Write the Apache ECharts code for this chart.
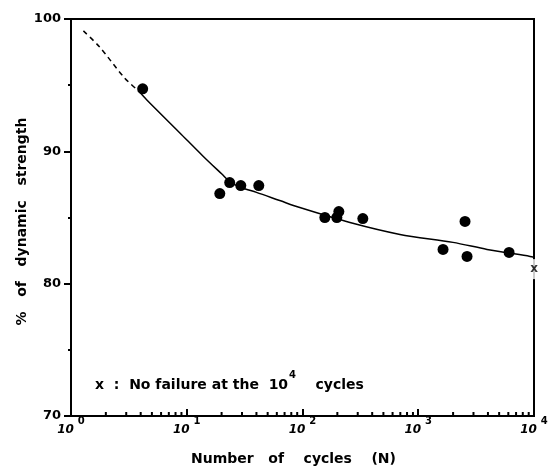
<!DOCTYPE html>
<html lang="en">
<head>
    <meta charset="UTF-8">
    <title>% of dynamic strength vs number of cycles</title>
    <script src="https://cdn.jsdelivr.net/npm/echarts@6/dist/echarts.min.js"></script>
</head>
<body style="margin:0;background:#fff;">
<div id="main" style="width:554px;height:471px;"></div>
<script type="text/javascript">
    // measured points (failure)
    var cyclesN = [4.16, 19.3, 23.5, 29.3, 41.9, 156, 198, 206, 332, 1637, 2535, 2639, 6090];
    var strength = [94.72, 86.81, 87.64, 87.41, 87.41, 85.0, 85.0, 85.45, 84.92, 82.59, 84.7, 82.06, 82.36];

    // run-out specimen (no failure at 10^4)
    var runoutN = [10000];
    var runoutS = [81.1];

    // fitted curve, dashed extrapolation part
    var dashN = [1.28, 1.76, 2.9, 3.9];
    var dashS = [99.1, 97.9, 95.55, 94.5];

    // fitted curve, solid part
    var fitN = [3.9, 4.5, 8.68, 13.7, 20, 24, 30, 40, 63.6, 94.8, 257, 695, 1995, 3929, 9250, 10000];
    var fitS = [94.5, 93.9, 91.41, 89.67, 88.3, 87.65, 87.25, 86.9, 86.28, 85.75, 84.62, 83.72, 83.12, 82.59, 82.06, 82.0];

    var decades = [1, 10, 100, 1000];
    var minorSteps = [2, 3, 4, 5, 6, 7, 8, 9];

    function pairs(xs, ys) {
        var out = [];
        for (var i = 0; i < xs.length; i++) {
            out.push([xs[i], ys[i]]);
        }
        return out;
    }

    var minorTicks = [];
    for (var d = 0; d < decades.length; d++) {
        for (var k = 0; k < minorSteps.length; k++) {
            minorTicks.push([decades[d] * minorSteps[k], 70]);
        }
    }

    var FONT = 'DejaVu Sans';

    var myChart = echarts.init(document.getElementById('main'));

    var option = {
        animation: false,
        backgroundColor: '#fff',
        grid: {
            left: 71,
            right: 20,
            top: 19,
            bottom: 54,
            show: true,
            borderColor: '#000',
            borderWidth: 2
        },
        xAxis: {
            type: 'log',
            logBase: 10,
            min: 1,
            max: 10000,
            name: 'Number   of    cycles    (N)',
            nameLocation: 'middle',
            nameGap: 36,
            nameMoveOverlap: false,
            nameTextStyle: {
                fontFamily: FONT,
                fontWeight: 'bold',
                fontSize: 14,
                color: '#000',
                padding: [0, 18, 0, 0]
            },
            axisLine: {lineStyle: {color: '#000', width: 2}},
            axisTick: {inside: true, length: 7, lineStyle: {color: '#000', width: 2}},
            splitLine: {show: false},
            axisLabel: {
                margin: 0,
                color: '#000',
                formatter: function (v) {
                    return '{b|10}{s|' + Math.round(Math.log10(v)) + '}';
                },
                rich: {
                    b: {fontFamily: FONT, fontWeight: 'bold', fontStyle: 'italic', fontSize: 12, lineHeight: 20, verticalAlign: 'bottom', color: '#000'},
                    s: {fontFamily: FONT, fontWeight: 'bold', fontSize: 10, lineHeight: 8, verticalAlign: 'top', padding: [0, 0, 0, 4], color: '#000'}
                }
            }
        },
        yAxis: {
            type: 'value',
            min: 70,
            max: 100,
            interval: 10,
            name: '%   of   dynamic   strength',
            nameLocation: 'middle',
            nameGap: 42,
            nameMoveOverlap: false,
            nameTextStyle: {
                fontFamily: FONT,
                fontWeight: 'bold',
                fontSize: 14,
                color: '#000',
                padding: [0, 8, 0, 0]
            },
            axisLine: {show: true, lineStyle: {color: '#000', width: 2}},
            axisTick: {show: true, length: 7, lineStyle: {color: '#000', width: 2}},
            minorTick: {show: true, splitNumber: 2, length: 3, lineStyle: {color: '#000', width: 2}},
            splitLine: {show: false},
            axisLabel: {
                margin: 10,
                fontFamily: FONT,
                fontWeight: 'bold',
                fontSize: 13,
                color: '#000'
            }
        },
        graphic: [{
            type: 'text',
            left: 95,
            top: 370,
            style: {
                text: '{a|x  :  No failure at the  10}{s|4}{a|    cycles}',
                rich: {
                    a: {fontFamily: FONT, fontWeight: 'bold', fontSize: 14, lineHeight: 22, verticalAlign: 'bottom', fill: '#000'},
                    s: {fontFamily: FONT, fontWeight: 'bold', fontSize: 10, lineHeight: 10, verticalAlign: 'top', padding: [0, 0, 0, 1], fill: '#000'}
                }
            }
        }],
        series: [
            {
                name: 'extrapolation',
                type: 'line',
                data: pairs(dashN, dashS),
                showSymbol: false,
                smooth: 0.3,
                lineStyle: {color: '#000', width: 1.5, type: [5, 4]}
            },
            {
                name: 'fit',
                type: 'line',
                data: pairs(fitN, fitS),
                showSymbol: false,
                smooth: 0.3,
                lineStyle: {color: '#000', width: 1.5}
            },
            {
                name: 'failure',
                type: 'scatter',
                data: pairs(cyclesN, strength),
                symbol: 'circle',
                symbolSize: 11,
                itemStyle: {color: '#000', opacity: 1},
                z: 3
            },
            {
                name: 'run-out',
                type: 'scatter',
                data: pairs(runoutN, runoutS),
                symbolSize: 1,
                clip: false,
                itemStyle: {color: 'rgba(0,0,0,0)'},
                label: {
                    show: true,
                    position: 'inside',
                    formatter: 'x',
                    fontFamily: FONT,
                    fontWeight: 'bold',
                    fontSize: 12,
                    color: '#000',
                    backgroundColor: '#fff',
                    padding: [3, 1, 5, 1]
                },
                z: 5
            },
            {
                name: 'minor ticks',
                type: 'scatter',
                data: minorTicks,
                symbol: 'rect',
                symbolSize: [2, 4],
                symbolOffset: [0, -2],
                clip: false,
                silent: true,
                itemStyle: {color: '#000', opacity: 1}
            }
        ]
    };

    myChart.setOption(option);
</script>
</body>
</html>
